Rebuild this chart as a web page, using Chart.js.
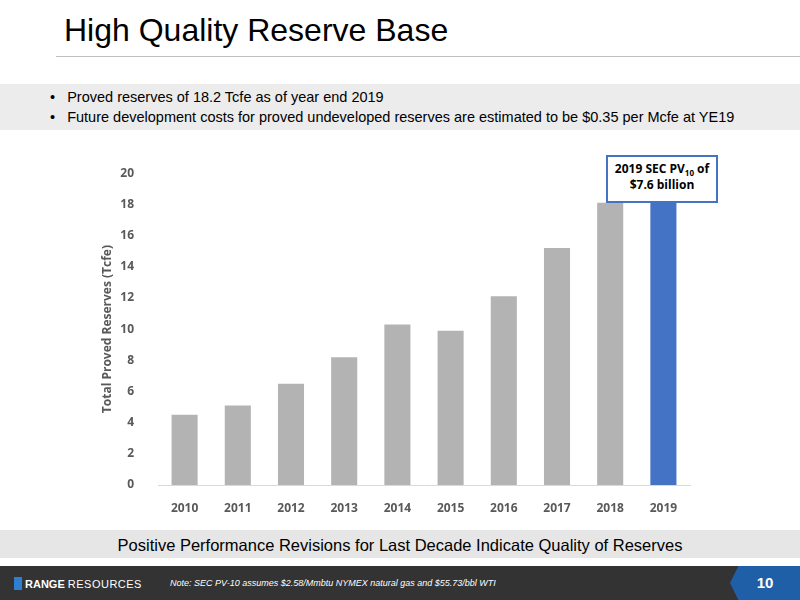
<!DOCTYPE html>
<html>
<head>
<meta charset="utf-8">
<script src="https://cdn.jsdelivr.net/npm/chart.js@4/dist/chart.umd.min.js"></script>
<style>
  body { margin: 0; width: 800px; height: 600px; position: relative; background: #fff; font-family: "Liberation Sans", Arial, sans-serif; overflow: hidden; }
  .title { position: absolute; left: 64px; top: 12px; font-size: 32px; color: #000; }
  .rule { position: absolute; left: 56px; right: 0; top: 56px; height: 1px; background: #bfbfbf; }
  .bullets { position: absolute; left: 0; top: 84px; width: 800px; height: 46px; background: #ececec; font-size: 14.5px; color: #000; }
  .bullets div { position: absolute; left: 50px; }
  .band { position: absolute; left: 0; top: 530px; width: 800px; height: 28px; background: #e6e6e6; font-size: 16.5px; text-align: center; line-height: 30px; color: #000; }
  .footer { position: absolute; left: 0; top: 566px; width: 800px; height: 34px; background: #333333; }
  .logo { position: absolute; left: 14px; top: 11px; color: #fff; font-size: 11px; font-weight: bold; }
  .logo span { font-weight: normal; letter-spacing: 0.5px; }
  .logo i { display: inline-block; width: 8px; height: 13px; background: #2f7fd0; vertical-align: -2px; margin-right: 3px; }
  .note { position: absolute; left: 170px; top: 12px; color: #fff; font-size: 9px; font-style: italic; }
  .page { position: absolute; left: 730px; top: 0; width: 70px; height: 34px; background: #1f5fa8; clip-path: polygon(12% 0, 100% 0, 100% 100%, 12% 100%, 0 50%); color: #fff; font-weight: bold; font-size: 15px; line-height: 34px; text-align: center; }
  #wrap { position: absolute; left: 100px; top: 150px; width: 620px; height: 370px; }
  .callout { position: absolute; left: 606px; top: 155px; width: 108px; height: 40px; border: 2px solid #4472c4; background: #fff; font-family: "Open Sans", sans-serif; font-weight: bold; font-size: 12px; text-align: center; line-height: 16px; padding-top: 4px; box-sizing: content-box; }
  .callout sub { font-size: 8px; line-height: 0; }
</style>
</head>
<body>
<div class="title">High Quality Reserve Base</div>
<div class="rule"></div>
<div class="bullets">
  <div style="top:5px">•&nbsp;&nbsp;&nbsp;Proved reserves of 18.2 Tcfe as of year end 2019</div>
  <div style="top:25px">•&nbsp;&nbsp;&nbsp;Future development costs for proved undeveloped reserves are estimated to be $0.35 per Mcfe at YE19</div>
</div>
<div id="wrap"><canvas id="chart"></canvas></div>
<div class="callout">2019 SEC PV<sub>10</sub> of<br>$7.6 billion</div>
<div class="band">Positive Performance Revisions for Last Decade Indicate Quality of Reserves</div>
<div class="footer">
  <div class="logo"><i></i>RANGE <span>RESOURCES</span></div>
  <div class="note">Note: SEC PV-10 assumes $2.58/Mmbtu NYMEX natural gas and $55.73/bbl WTI</div>
  <div class="page">10</div>
</div>
<script>
const years = ['2010', '2011', '2012', '2013', '2014', '2015', '2016', '2017', '2018', '2019'];
const reserves = [4.5, 5.1, 6.5, 8.2, 10.3, 9.9, 12.1, 15.2, 18.1, 18.2];
const barColors = years.map(y => y === '2019' ? '#4472c4' : '#b3b3b3');

const tickFont = { family: 'Open Sans', size: 12, weight: 'bold' };
new Chart(document.getElementById('chart'), {
  type: 'bar',
  data: {
    labels: years,
    datasets: [{ data: reserves, backgroundColor: barColors, categoryPercentage: 1, barPercentage: 0.49 }]
  },
  options: {
    responsive: true,
    maintainAspectRatio: false,
    animation: false,
    layout: { padding: { top: 23, right: 30, left: 0, bottom: 0 } },
    plugins: { legend: { display: false }, tooltip: { enabled: false } },
    scales: {
      x: {
        grid: { display: false },
        border: { color: '#d9d9d9' },
        ticks: { color: '#595959', font: tickFont, padding: 8 },
        afterFit: s => { s.height = 35; }
      },
      y: {
        min: 0, max: 20,
        grid: { display: false },
        border: { display: false },
        ticks: { stepSize: 2, color: '#595959', font: tickFont, padding: 16 },
        title: { display: true, text: 'Total Proved Reserves (Tcfe)', color: '#595959', font: { family: 'Open Sans', size: 12, weight: 'bold' }, padding: 0 },
        afterFit: s => { s.width = 58; }
      }
    }
  }
});
</script>
</body>
</html>
